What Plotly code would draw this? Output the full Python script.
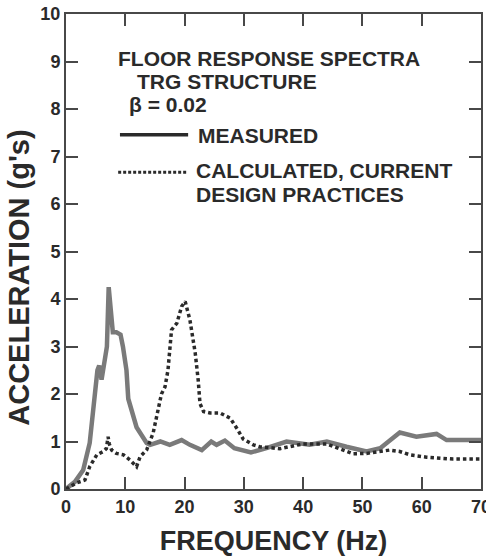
import plotly.graph_objects as go

# ---- data ----
meas_freq = [0, 1.5, 2.9, 4.0, 5.3, 5.6, 6.0, 6.3, 6.9, 7.2, 7.6, 7.9, 8.5, 9.2, 9.6, 10.2, 10.5,
             11.9, 13.6, 14.2, 15.9, 17.5, 19.5, 20.9, 22.9, 24.5, 25.4, 26.8, 28.4, 31.2,
             33.8, 37.2, 41.1, 44.0, 47.3, 50.7, 53.0, 56.3, 59.1, 62.5, 64.2, 70.0]
meas_acc = [0, 0.15, 0.4, 0.97, 2.5, 2.6, 2.3, 2.5, 3.0, 4.25, 3.6, 3.3, 3.3, 3.25, 3.0, 2.5, 1.9,
            1.3, 0.97, 0.93, 1.0, 0.93, 1.03, 0.93, 0.82, 1.0, 0.93, 1.02, 0.86, 0.77,
            0.86, 1.0, 0.93, 1.0, 0.89, 0.79, 0.86, 1.19, 1.1, 1.16, 1.03, 1.03]

calc_freq = [0, 1.8, 3.2, 4.0, 5.2, 6.3, 6.8, 7.1, 7.3, 7.7, 8.5, 9.7, 10.8, 11.9, 12.5, 13.6,
             14.7, 15.3, 16.1, 16.7, 17.2, 17.8, 18.7, 19.5, 20.1, 20.9, 21.8, 22.3, 22.6,
             23.2, 24.3, 26.0, 27.7, 28.8, 29.9, 31.6, 32.7, 36.1, 40.0, 44.0, 47.3, 48.4,
             50.7, 54.6, 56.3, 58.0, 60.8, 65.3, 70.0]
calc_acc = [0, 0.13, 0.19, 0.47, 0.72, 0.79, 0.85, 1.1, 0.95, 0.82, 0.75, 0.72, 0.61, 0.47, 0.68, 0.82,
            1.18, 1.52, 2.0, 2.15, 2.5, 3.35, 3.49, 3.84, 3.95, 3.56, 2.86, 2.29, 1.8,
            1.63, 1.6, 1.6, 1.49, 1.28, 1.05, 0.93, 0.89, 0.85, 0.95, 0.95, 0.79, 0.74,
            0.75, 0.82, 0.79, 0.72, 0.67, 0.63, 0.63]

x_ticks = [0, 10, 20, 30, 40, 50, 60, 70]
y_ticks = [0, 1, 2, 3, 4, 5, 6, 7, 8, 9, 10]

FONT = "Liberation Sans, Arial, Helvetica, sans-serif"
INK = "#2a2a2a"
AXC = "#484848"
GRAY = "#7a7a7a"

fig = go.Figure()
fig.add_trace(go.Scatter(x=meas_freq, y=meas_acc, mode="lines",
                         line=dict(color=GRAY, width=4.5), showlegend=False,
                         name="MEASURED"))
fig.add_trace(go.Scatter(x=calc_freq, y=calc_acc, mode="lines",
                         line=dict(color=INK, width=3.5, dash="3.5px,3px"), showlegend=False,
                         name="CALCULATED, CURRENT DESIGN PRACTICES"))

def txt(x, y, s):
    fig.add_annotation(x=x, y=y, xref="x", yref="y", text=s, showarrow=False,
                       xanchor="left", yanchor="middle", borderpad=0,
                       font=dict(family=FONT, size=21, color=INK, weight="bold"))

txt(8.6, 9.07, "FLOOR RESPONSE SPECTRA")
txt(11.8, 8.57, "TRG STRUCTURE")
txt(10.4, 8.10, "β = 0.02")
txt(22.1, 7.45, "MEASURED")
txt(21.8, 6.70, "CALCULATED, CURRENT")
txt(21.8, 6.20, "DESIGN PRACTICES")

fig.add_shape(type="line", xref="x", yref="y", x0=9.1, x1=20.6, y0=7.46, y1=7.46,
              line=dict(color=INK, width=3.5))
fig.add_shape(type="line", xref="x", yref="y", x0=8.8, x1=20.6, y0=6.67, y1=6.67,
              line=dict(color=INK, width=3, dash="3px,2px"))

# y-axis title (placed as rotated text to match the reference position)
fig.add_annotation(x=-0.113, y=4.45, xref="paper", yref="y", text="ACCELERATION (g's)",
                   showarrow=False, textangle=-90, xanchor="center", yanchor="middle",
                   font=dict(family=FONT, size=29, color=INK, weight="bold"))

axis_common = dict(showline=True, linewidth=2, linecolor=AXC, mirror="ticks",
                   ticks="inside", ticklen=12, tickwidth=2, tickcolor=AXC,
                   showgrid=False, zeroline=False, ticklabeloverflow="allow",
                   automargin=False,
                   tickfont=dict(family=FONT, size=18, color=INK, weight="bold"))

fig.update_xaxes(range=[0, 70], tickvals=x_ticks, ticktext=[str(v) for v in x_ticks],
                 title=dict(text="FREQUENCY (Hz)", standoff=20,
                            font=dict(family=FONT, size=27, color=INK, weight="bold")),
                 **axis_common)
fig.update_yaxes(range=[0, 10], tickvals=y_ticks, ticktext=[str(v) for v in y_ticks],
                 **axis_common)

fig.update_layout(width=486, height=556, margin=dict(l=66, r=5, t=14, b=67),
                  paper_bgcolor="white", plot_bgcolor="white")

fig.write_html("out.html")
